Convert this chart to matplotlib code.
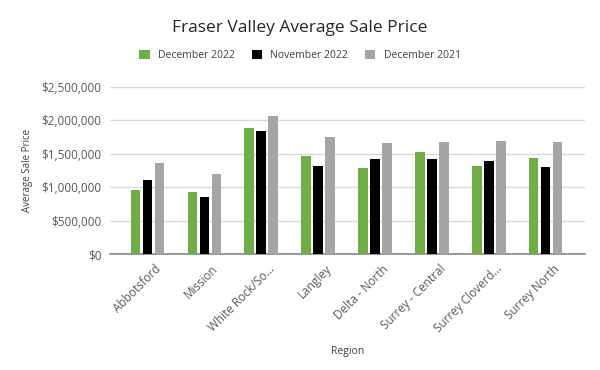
import matplotlib
matplotlib.use("Agg")
import matplotlib.pyplot as plt
import matplotlib.transforms as mtransforms
import numpy as np
from matplotlib.ticker import FuncFormatter

# Data
regions = ['Abbotsford', 'Mission', 'White Rock/So...', 'Langley', 'Delta - North',
           'Surrey - Central', 'Surrey Cloverd...', 'Surrey North']
dec_2022 = [954000, 930000, 1880000, 1463000, 1285000, 1520000, 1320000, 1434000]
nov_2022 = [1113000, 854000, 1837000, 1319000, 1420000, 1420000, 1390000, 1305000]
dec_2021 = [1362000, 1190000, 2070000, 1750000, 1664000, 1680000, 1690000, 1680000]

series = [('December 2022', dec_2022, '#70ad47'),
          ('November 2022', nov_2022, '#000000'),
          ('December 2021', dec_2021, '#a5a5a5')]

plt.rcParams['font.family'] = ['Open Sans', 'DejaVu Sans']

fig = plt.figure(figsize=(6, 3.7), dpi=100)
ax = fig.add_axes([0.183, 0.3135, 0.792, 0.4515])

x = np.arange(len(regions))
width = 0.167
step = 0.211
for i, (name, vals, color) in enumerate(series):
    ax.bar(x + (i - 1) * step, vals, width=width, color=color, label=name, zorder=3)

ax.set_ylim(0, 2500000)
ax.set_xlim(-0.66, len(regions) - 0.31)
ax.set_yticks(np.arange(0, 2500001, 500000))
ax.yaxis.set_major_formatter(FuncFormatter(lambda v, p: f'${v:,.0f}'))
ax.grid(axis='y', color='#d9d9d9', linewidth=1, zorder=0)

for s in ['top', 'right', 'left']:
    ax.spines[s].set_visible(False)
ax.spines['bottom'].set_color('#868686')
ax.spines['bottom'].set_linewidth(1.2)
ax.tick_params(axis='both', length=0, colors='#595959', labelsize=8.5, pad=6)

ax.set_xticks(x)
ax.set_xticklabels(regions, rotation=45, ha='right', rotation_mode='anchor')
# nudge rotated labels a bit to the right, like the original
shift = mtransforms.ScaledTranslation(5 / 72, 0, fig.dpi_scale_trans)
for lbl in ax.get_xticklabels():
    lbl.set_transform(lbl.get_transform() + shift)

ax.set_xlabel('Region', fontsize=7.5, color='#404040', labelpad=8)
ax.set_ylabel('Average Sale Price', fontsize=7, color='#404040', labelpad=6)

fig.text(0.5, 0.925, 'Fraser Valley Average Sale Price', ha='center', va='center',
         fontsize=12.5, color='#262626')
fig.legend(loc='center', bbox_to_anchor=(0.5, 0.85), ncol=3, frameon=False,
           fontsize=7.5, handlelength=1.0, handleheight=1.0, columnspacing=1.6,
           labelcolor='#404040')

plt.savefig('out.png', dpi=100)
plt.close()
